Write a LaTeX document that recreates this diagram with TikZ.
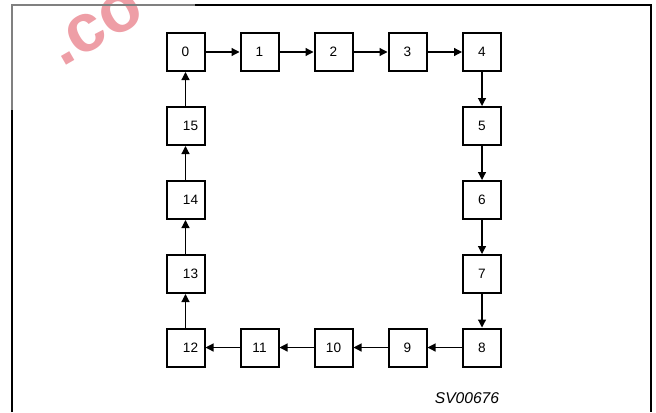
\documentclass[tikz,border=0pt]{standalone}
\usepackage{fontspec}
\setmainfont{Liberation Sans}
\usetikzlibrary{arrows.meta}

\definecolor{stamp}{RGB}{238,158,166}
\tikzset{
  cell/.style={draw,line width=1pt,minimum size=19pt,inner sep=0pt,
    font=\fontsize{6.8}{8}\selectfont},
  wide/.style={execute at begin node=\hspace*{5pt}},
  link/.style={-{Triangle[length=4pt,width=4pt]},line width=0.6pt}
}

\begin{document}
\begin{tikzpicture}[x=0.5pt,y=-0.5pt]
    \useasboundingbox (0,0) rectangle (656,412);

    % watermark
    \node[stamp,rotate=30,anchor=base west,inner sep=0pt,
      font=\fontsize{34}{34}\selectfont\bfseries]
      (mark) at (62,68) {.co};

    \draw[gray,line width=1pt]
      (11.5,110) -- (11.5,5) -- (195,5);
    \draw[line width=1pt]
      (11.5,412) -- (11.5,110);
    \draw[line width=1pt]
      (195,5) -- (650.5,5) -- (650.5,412);

    \node[cell] (c0) at (185.5,52) {0};
    \node[cell] (c1) at (259.5,52) {1};
    \node[cell] (c2) at (333.5,52) {2};
    \node[cell] (c3) at (407.5,52) {3};
    \node[cell] (c4) at (482,52) {4};

    \node[cell] (c5) at (482,126) {5};
    \node[cell] (c6) at (482,200) {6};
    \node[cell] (c7) at (482,274) {7};
    \node[cell] (c8) at (482,347.5) {8};

    \node[cell] (c9) at (407.5,347.5) {9};
    \node[cell] (c10) at (333.5,347.5) {10};
    \node[cell] (c11) at (259.5,347.5) {11};
    \node[cell,wide] (c12) at (185.5,347.5) {12};

    \node[cell,wide] (c13) at (185.5,274) {13};
    \node[cell,wide] (c14) at (185.5,200) {14};
    \node[cell,wide] (c15) at (185.5,126) {15};

    \draw[link] (c0) -- (c1);
    \draw[link] (c1) -- (c2);
    \draw[link] (c2) -- (c3);
    \draw[link] (c3) -- (c4);
    \draw[link] (c4) -- (c5);
    \draw[link] (c5) -- (c6);
    \draw[link] (c6) -- (c7);
    \draw[link] (c7) -- (c8);
    \draw[link] (c8) -- (c9);
    \draw[link] (c9) -- (c10);
    \draw[link] (c10) -- (c11);
    \draw[link] (c11) -- (c12);
    \draw[link] (c12) -- (c13);
    \draw[link] (c13) -- (c14);
    \draw[link] (c14) -- (c15);
    \draw[link] (c15) -- (c0);

    \node[font=\fontsize{7.8}{9}\selectfont\itshape] (tag) at (467,398) {SV00676};
\end{tikzpicture}
\end{document}
